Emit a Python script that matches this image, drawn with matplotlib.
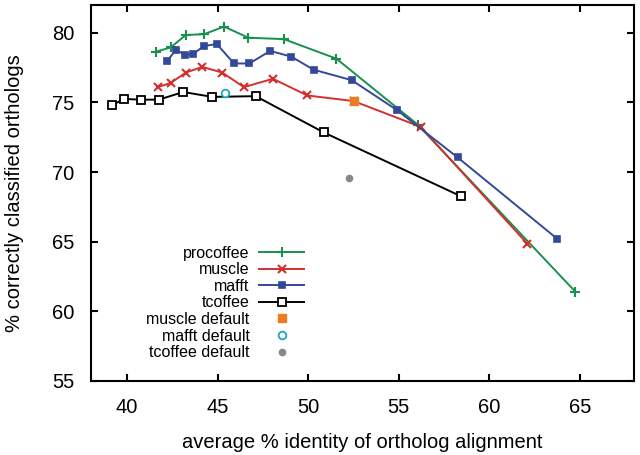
import matplotlib
matplotlib.use('Agg')
import matplotlib.pyplot as plt

plt.rcParams['font.family'] = ['Liberation Sans', 'DejaVu Sans']

# data
procoffee_x = [41.6, 42.4, 43.25, 44.25, 45.35, 46.7, 48.65, 51.55, 56.05, 64.75]
procoffee_y = [78.65, 78.95, 79.85, 79.9, 80.45, 79.65, 79.55, 78.15, 73.4, 61.4]

muscle_x = [41.7, 42.4, 43.25, 44.15, 45.25, 46.45, 48.05, 49.95, 52.5, 56.2, 62.1]
muscle_y = [76.1, 76.4, 77.15, 77.55, 77.15, 76.1, 76.7, 75.5, 75.1, 73.25, 64.85]

mafft_x = [42.2, 42.7, 43.2, 43.65, 44.25, 44.95, 45.9, 46.75, 47.9, 49.05, 50.3, 52.4, 54.9, 58.25, 63.75]
mafft_y = [77.95, 78.8, 78.4, 78.5, 79.05, 79.2, 77.8, 77.8, 78.7, 78.3, 77.35, 76.6, 74.45, 71.05, 65.2]

tcoffee_x = [39.15, 39.85, 40.75, 41.75, 43.1, 44.7, 47.1, 50.85, 58.45]
tcoffee_y = [74.8, 75.25, 75.2, 75.2, 75.75, 75.4, 75.45, 72.85, 68.25]

muscle_default = (52.5, 75.1)
mafft_default = (45.4, 75.65)
tcoffee_default = (52.25, 69.55)

fig = plt.figure(figsize=(6.4, 4.55), dpi=100)
ax = fig.add_axes([0.142, 0.163, 0.849, 0.826])

ax.plot(procoffee_x, procoffee_y, color='#17914b', lw=1.4, marker='+', ms=7, mew=1.5, label='procoffee')
ax.plot(muscle_x, muscle_y, color='#d2302e', lw=1.4, marker='x', ms=6, mew=1.5, label='muscle')
ax.plot(mafft_x, mafft_y, color='#34489a', lw=1.4, marker='s', ms=5, mew=1.2, label='mafft')
ax.plot(tcoffee_x, tcoffee_y, color='black', lw=1.4, marker='s', ms=5.5, mew=1.3, mfc='white', label='tcoffee')
ax.plot([muscle_default[0]], [muscle_default[1]], ls='none', marker='s', ms=5.5, color='#ee7b22', label='muscle default')
ax.plot([mafft_default[0]], [mafft_default[1]], ls='none', marker='o', ms=5.5, mew=1.3, mfc='white', color='#1ba7c4', label='mafft default')
ax.plot([tcoffee_default[0]], [tcoffee_default[1]], ls='none', marker='o', ms=4.5, color='#888888', label='tcoffee default')

ax.set_xlim(38, 68)
ax.set_ylim(55, 82)
ax.set_xticks([40, 45, 50, 55, 60, 65])
ax.set_yticks([55, 60, 65, 70, 75, 80])
ax.tick_params(direction='in', length=5, width=1.5, labelsize=14.5, top=True, right=True, pad=12)
for s in ax.spines.values():
    s.set_linewidth(1.5)

ax.set_xlabel('average % identity of ortholog alignment', fontsize=14.5, labelpad=12)
ax.set_ylabel('% correctly classified orthologs', fontsize=14.5, labelpad=20)

ax.legend(loc='upper right', bbox_to_anchor=(0.392, 0.36), frameon=False, markerfirst=False,
          alignment='right', fontsize=11.5, handlelength=2.8, labelspacing=0.1,
          handletextpad=0.6, borderaxespad=0, borderpad=0)

fig.savefig('out.png', dpi=100)
